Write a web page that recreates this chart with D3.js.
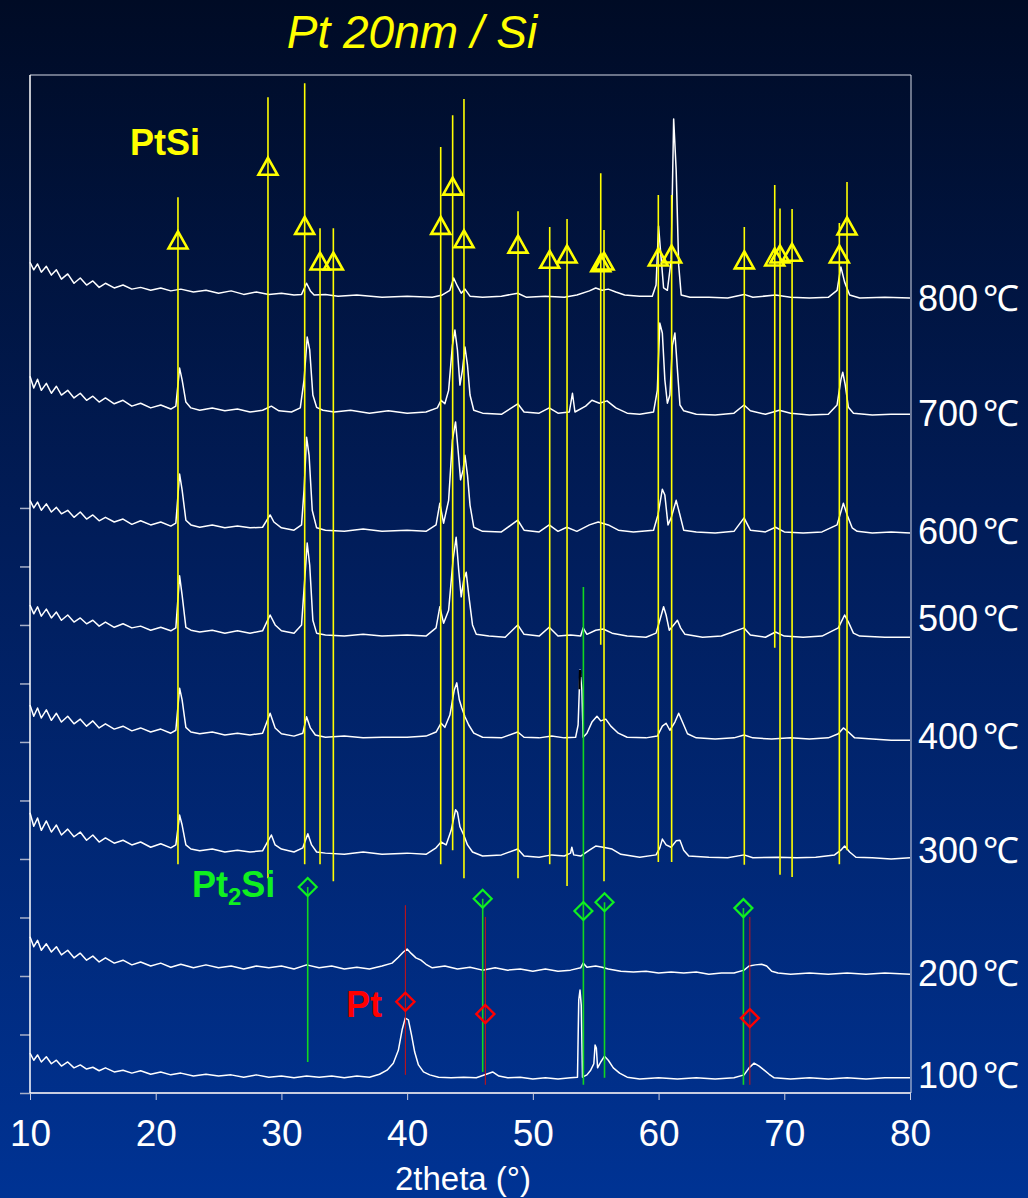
<!DOCTYPE html>
<html>
<head>
<meta charset="utf-8">
<script src="https://cdn.jsdelivr.net/npm/d3@7"></script>
<style>
  html, body { margin: 0; padding: 0; background: #001a50; }
  svg { display: block; font-family: "Liberation Sans", Arial, sans-serif; }
</style>
</head>
<body>
<svg width="1028" height="1198"></svg>
<script>
// ---- data (2theta in degrees, intensity in counts incl. stacking offset) ----
const xTicks = [10, 20, 30, 40, 50, 60, 70, 80];
const yTicks = [0, 1000, 2000, 3000, 4000, 5000, 6000, 7000, 8000, 9000, 10000];

const tempLabels = ['800', '700', '600', '500', '400', '300', '200', '100'];
const tempUnit = '℃';
const tempLabelAt = [13590, 11620, 9600, 8120, 6100, 4150, 2050, 310];

const trace800 = [[10,14200],[10.3,14070],[10.6,14170],[10.9,14030],[11.3,14130],[11.7,13980],[12.1,14070],[12.5,13910],[13,14000],[13.5,13840],[14,13930],[14.5,13810],[15,13880],[15.5,13770],[16,13840],[16.7,13760],[17.4,13810],[18.1,13740],[18.8,13770],[19.6,13720],[20.4,13760],[21.2,13710],[22,13740],[23,13690],[24,13720],[25,13670],[26,13710],[27,13650],[28,13690],[29,13650],[30,13670],[31,13640],[31.6,13650],[32,13840],[32.3,13710],[32.6,13640],[33.5,13650],[34.5,13620],[36,13640],[38,13600],[40,13620],[42,13600],[42.8,13640],[43.4,13720],[43.7,13930],[44,13790],[44.3,13670],[44.6,13740],[45,13620],[46,13600],[47.5,13620],[48.8,13670],[49.5,13600],[51,13620],[52.5,13600],[53.5,13640],[54.5,13710],[55,13760],[55.5,13720],[56,13740],[56.6,13690],[57.3,13640],[58.5,13620],[59.5,13620],[59.8,13810],[60,14820],[60.15,14410],[60.4,13760],[60.7,13720],[61,14240],[61.2,16650],[61.4,15770],[61.6,14150],[61.8,13640],[62.5,13600],[64,13600],[65.5,13590],[66.8,13650],[67.5,13600],[69.3,13640],[70.5,13600],[72,13590],[73.5,13600],[74.2,13720],[74.5,14120],[74.8,13860],[75.2,13640],[76,13590],[78,13600],[80,13590]];

const trace700 = [[10,12250],[10.3,12050],[10.6,12200],[10.9,12010],[11.3,12130],[11.7,11960],[12.1,12080],[12.5,11930],[13,12010],[13.5,11880],[14,11960],[14.5,11840],[15,11910],[15.5,11810],[16,11880],[16.7,11780],[17.4,11840],[18.1,11740],[18.8,11790],[19.6,11710],[20.4,11760],[21.2,11690],[21.6,11740],[21.9,12390],[22.1,12190],[22.4,11810],[22.8,11710],[23.5,11670],[24.5,11710],[25.5,11660],[26.5,11690],[27.5,11640],[28.5,11670],[29.2,11740],[29.8,11660],[30.8,11640],[31.5,11710],[31.8,12190],[32.05,12920],[32.25,12700],[32.5,11930],[32.8,11720],[33.3,11670],[34.2,11640],[35.5,11670],[37,11620],[38.5,11660],[40,11620],[41.5,11640],[42.4,11710],[42.7,11840],[43,11780],[43.3,12010],[43.6,12780],[43.8,13040],[44,12700],[44.2,12100],[44.4,12360],[44.6,12750],[44.8,12440],[45,11930],[45.3,11670],[46,11620],[47.5,11600],[48.8,11780],[49.3,11640],[50.5,11620],[51.3,11710],[52,11620],[52.9,11640],[53.15,11960],[53.35,11640],[54.2,11740],[54.7,11840],[55.3,11790],[55.9,11830],[56.6,11710],[57.5,11620],[58.5,11600],[59.6,11640],[59.9,12010],[60.1,13160],[60.3,12990],[60.5,12190],[60.7,11790],[60.9,11930],[61.1,12780],[61.3,12990],[61.5,12360],[61.7,11760],[62,11660],[63,11600],[64.5,11590],[66,11620],[66.8,11760],[67.3,11660],[68.5,11600],[69.6,11670],[70.5,11620],[72,11590],[73.5,11600],[74.2,11760],[74.5,12190],[74.65,12320],[74.85,12100],[75.1,11720],[75.5,11620],[77,11590],[78.5,11600],[80,11600]];

const trace600 = [[10,10130],[10.3,10000],[10.6,10100],[10.9,9960],[11.3,10070],[11.7,9930],[12.1,10010],[12.5,9900],[13,9960],[13.5,9840],[14,9930],[14.5,9810],[15,9880],[15.5,9780],[16,9840],[16.7,9760],[17.4,9810],[18.1,9720],[18.8,9780],[19.6,9710],[20.4,9760],[21.2,9690],[21.6,9740],[21.9,10580],[22.1,10310],[22.4,9790],[22.8,9710],[23.5,9670],[24.5,9710],[25.5,9660],[26.5,9690],[27.5,9660],[28.5,9670],[29.1,9880],[29.4,9760],[30,9660],[31,9620],[31.6,9710],[31.8,10310],[32,11210],[32.2,10900],[32.45,9960],[32.8,9660],[33.5,9620],[35,9600],[36.5,9640],[38,9600],[40,9620],[41.5,9600],[42.3,9710],[42.6,10080],[42.9,9740],[43.3,10130],[43.6,11160],[43.85,11470],[44.05,10990],[44.25,10480],[44.45,10650],[44.6,10900],[44.8,10560],[45,10050],[45.3,9670],[46,9600],[47.5,9590],[48.8,9790],[49.3,9620],[50.5,9590],[51.3,9710],[52,9600],[52.7,9670],[53.5,9600],[54.5,9710],[55.2,9760],[56,9710],[56.8,9620],[58,9590],[59.6,9620],[59.95,9880],[60.3,10320],[60.5,10220],[60.75,9710],[61,9830],[61.4,10130],[61.7,9880],[62,9620],[63,9590],[64.5,9570],[66,9600],[66.8,9830],[67.3,9620],[68.5,9590],[69.3,9670],[70,9590],[71.5,9570],[73,9590],[74.2,9710],[74.7,10080],[75,9880],[75.4,9660],[75.8,9600],[77,9570],[78.5,9590],[80,9570]];

const trace500 = [[10,8340],[10.3,8190],[10.6,8310],[10.9,8150],[11.3,8270],[11.7,8120],[12.1,8220],[12.5,8080],[13,8170],[13.5,8050],[14,8120],[14.5,8020],[15,8080],[15.5,7980],[16,8050],[16.7,7960],[17.4,8020],[18.1,7950],[18.8,7980],[19.6,7910],[20.4,7960],[21.2,7900],[21.6,7950],[21.9,8840],[22.1,8510],[22.4,7960],[22.8,7910],[23.5,7880],[24.5,7910],[25.5,7860],[26.5,7900],[27.5,7860],[28.5,7900],[29.1,8170],[29.5,8000],[30,7900],[31,7860],[31.6,8000],[31.85,8770],[32.05,9400],[32.25,9020],[32.5,8080],[32.8,7860],[33.5,7830],[35,7810],[36.5,7840],[38,7810],[40,7830],[41.5,7810],[42.3,7950],[42.6,8310],[42.9,8030],[43.3,8250],[43.65,9110],[43.9,9500],[44.1,8940],[44.3,8480],[44.5,8770],[44.7,8900],[44.9,8510],[45.2,8000],[45.5,7840],[46.5,7810],[47.8,7790],[48.8,8000],[49.3,7840],[50.5,7810],[51.3,7960],[52,7810],[53,7830],[53.8,7810],[54,7950],[54.3,7840],[55,7910],[55.6,7930],[56.3,7860],[57.5,7810],[59,7790],[59.8,7860],[60.1,8080],[60.4,8310],[60.6,8170],[60.85,7910],[61.2,8000],[61.5,8080],[61.75,7950],[62.1,7840],[63.5,7790],[65,7810],[66.8,7950],[67.3,7830],[68.5,7790],[69.3,7880],[70,7810],[71.5,7790],[73,7810],[74.3,7950],[74.8,8170],[75.1,8050],[75.5,7860],[76,7810],[78,7790],[80,7790]];

const trace400 = [[10,6630],[10.3,6440],[10.6,6580],[10.9,6410],[11.3,6550],[11.7,6370],[12.1,6490],[12.5,6340],[13,6440],[13.5,6310],[14,6390],[14.5,6270],[15,6360],[15.5,6240],[16,6310],[16.7,6220],[17.4,6270],[18.1,6190],[18.8,6240],[19.6,6170],[20.4,6220],[21.2,6150],[21.6,6200],[21.9,6920],[22.1,6720],[22.4,6250],[22.8,6170],[23.5,6140],[24.5,6170],[25.5,6120],[26.5,6150],[27.5,6120],[28.5,6150],[29.1,6490],[29.5,6240],[30,6140],[31,6100],[31.7,6150],[32,6430],[32.3,6240],[32.7,6120],[33.5,6080],[35,6100],[36.5,6070],[38,6080],[40,6080],[41.5,6100],[42.3,6170],[42.7,6320],[43,6250],[43.4,6460],[43.75,6890],[43.95,7010],[44.15,6720],[44.35,6580],[44.6,6430],[44.9,6290],[45.3,6150],[46,6080],[47.5,6070],[48.8,6170],[49.3,6080],[50.5,6070],[51.5,6100],[52.5,6070],[53.4,6080],[53.6,6290],[53.75,7230],[53.9,6890],[54,6080],[54.3,6150],[54.7,6340],[55.1,6440],[55.4,6360],[55.8,6390],[56.2,6270],[56.8,6150],[57.5,6080],[59,6070],[59.9,6100],[60.3,6270],[60.6,6320],[60.9,6200],[61.3,6340],[61.6,6490],[61.9,6340],[62.3,6140],[63,6070],[64.5,6050],[66,6070],[66.8,6120],[67.5,6070],[69,6050],[70.5,6070],[72,6050],[73.5,6070],[74.3,6140],[74.7,6240],[75.1,6170],[75.6,6070],[77,6050],[78.5,6030],[80,6030]];
const trace400Top = [[53.71,6900],[53.75,7230],[53.8,7110]];

const trace300 = [[10,4790],[10.3,4560],[10.6,4700],[10.9,4490],[11.3,4650],[11.7,4460],[12.1,4580],[12.5,4410],[13,4510],[13.5,4380],[14,4460],[14.5,4320],[15,4410],[15.5,4290],[16,4360],[16.7,4270],[17.4,4320],[18.1,4240],[18.8,4290],[19.6,4200],[20.4,4260],[21.2,4190],[21.6,4240],[21.9,4750],[22.1,4580],[22.4,4240],[22.8,4170],[23.5,4140],[24.5,4170],[25.5,4120],[26.5,4150],[27.5,4120],[28.5,4140],[29.2,4410],[29.5,4240],[30,4170],[31,4120],[31.7,4190],[32.1,4430],[32.4,4240],[32.8,4120],[33.5,4100],[35,4080],[36.5,4120],[38,4080],[40,4100],[41.5,4080],[42.3,4190],[42.7,4290],[43.1,4240],[43.5,4490],[43.85,4840],[44,4800],[44.2,4550],[44.5,4410],[44.8,4240],[45.2,4120],[46,4050],[47.5,4070],[48.8,4170],[49.3,4050],[50.5,4030],[51.5,4070],[52.5,4050],[53,4100],[53.1,4200],[53.25,4070],[53.8,4050],[54.5,4150],[55,4220],[55.6,4200],[56.3,4170],[57,4080],[58.5,4030],[59.8,4070],[60.1,4190],[60.3,4340],[60.6,4240],[61,4200],[61.4,4310],[61.7,4320],[62,4150],[62.4,4050],[64,4030],[65.5,4020],[66.8,4070],[67.5,4020],[69.5,4030],[71,4020],[72.5,4030],[74,4070],[74.5,4150],[74.8,4220],[75.2,4120],[75.7,4030],[77,4020],[78.5,4000],[80,4020]];

const trace200 = [[10,2670],[10.3,2500],[10.6,2610],[10.9,2440],[11.3,2550],[11.7,2410],[12.1,2500],[12.5,2360],[13,2440],[13.5,2310],[14,2390],[14.5,2270],[15,2340],[15.5,2240],[16,2310],[16.7,2220],[17.4,2270],[18.1,2190],[18.8,2240],[19.6,2170],[20.4,2220],[21.2,2150],[22,2200],[23,2140],[24,2190],[25,2140],[26,2170],[27,2120],[28,2170],[29,2140],[30,2170],[31,2120],[32,2190],[33,2140],[34,2170],[35,2120],[36,2150],[37,2120],[38,2170],[38.8,2220],[39.3,2320],[39.7,2410],[40,2460],[40.3,2390],[40.7,2310],[41.1,2270],[41.5,2200],[42,2140],[43,2170],[44,2120],[45,2150],[46,2100],[47,2140],[48,2100],[49,2120],[50,2080],[51,2120],[52,2080],[53,2100],[53.8,2140],[54,2220],[54.3,2150],[55,2170],[55.5,2150],[56,2120],[57,2080],[58,2070],[59,2080],[60,2050],[61,2070],[62,2050],[63,2070],[64,2030],[65,2050],[66,2050],[66.8,2100],[67.2,2170],[67.7,2190],[68.2,2200],[68.6,2170],[69,2080],[69.5,2050],[70.5,2030],[72,2050],[73.5,2030],[75,2050],[76.5,2030],[78,2050],[80,2030]];

const trace100 = [[10,680],[10.3,560],[10.6,650],[10.9,530],[11.3,620],[11.7,500],[12.1,560],[12.5,460],[13,530],[13.5,430],[14,480],[14.5,410],[15,440],[15.5,380],[16,430],[16.7,360],[17.4,390],[18.1,340],[18.8,380],[19.6,320],[20.4,360],[21.2,310],[22,340],[23,290],[24,320],[25,290],[26,310],[27,270],[28,310],[29,270],[30,290],[31,260],[32,290],[33,270],[34,290],[35,260],[36,290],[37,270],[37.8,320],[38.4,390],[38.9,510],[39.3,730],[39.6,1080],[39.85,1280],[40.1,1250],[40.35,990],[40.6,700],[40.9,480],[41.3,360],[41.8,310],[42.5,270],[43.5,260],[44.5,270],[45.5,260],[46.3,320],[46.8,360],[47.3,290],[48,260],[49,270],[50,240],[51,260],[52,240],[53,260],[53.55,270],[53.65,1590],[53.75,1760],[53.85,1500],[53.95,270],[54.3,310],[54.6,390],[54.85,500],[54.95,820],[55.05,770],[55.15,430],[55.4,530],[55.7,630],[56,560],[56.4,430],[56.9,340],[57.5,270],[58.5,240],[60,260],[61.5,240],[63,260],[64.5,240],[66,260],[66.8,310],[67.2,430],[67.6,510],[68,460],[68.4,390],[68.8,320],[69.2,260],[70.5,240],[72,260],[73.5,240],[75,260],[76.5,240],[78,260],[80,260]];

// PtSi reference pattern (stick top, triangle marker, stick bottom)
const ptsiPos    = [21.77, 28.93, 31.85, 33.07, 34.13, 42.67, 43.62, 44.52, 48.82, 51.34, 52.72, 55.40, 55.66, 59.98, 61.04, 66.82, 69.24, 69.66, 70.62, 74.38, 74.99];
const ptsiTop    = [15310, 17020, 17260, 14780, 14780, 16170, 16710, 16990, 15070, 14800, 14940, 15720, 14750, 15350, 15350, 14800, 15520, 15120, 15110, 14870, 15570];
const ptsiMark   = [14580, 15840, 14830, 14220, 14220, 14830, 15500, 14600, 14510, 14250, 14340, 14190, 14220, 14290, 14340, 14240, 14290, 14340, 14370, 14340, 14820];
const ptsiBottom = [3910, 3670, 3910, 3910, 3620, 3910, 4150, 3670, 3670, 3910, 3540, 7660, 3620, 3950, 3950, 3900, 7610, 3730, 3690, 3910, 4150];

// Pt2Si reference pattern
const pt2siPos    = [32.09, 46.01, 54.02, 55.70, 66.75];
const pt2siTop    = [3520, 3320, 8650, 3260, 3160];
const pt2siMark   = [3520, 3320, 3110, 3260, 3160];
const pt2siBottom = [530, 360, 140, 260, 140];

// Pt reference pattern
const ptPos    = [39.86, 46.22, 67.26];
const ptTop    = [3210, 3010, 3010];
const ptMark   = [1560, 1350, 1280];
const ptBottom = [310, 140, 140];

// ---- chart ----
const svg = d3.select('svg');
const width = 1028, height = 1198;
const plot = { left: 30, right: 910, top: 75, bottom: 1093 };

const xScale = d3.scaleLinear().domain([10, 80]).range([plot.left, plot.right]);
const yScale = d3.scaleLinear().domain([0, 17400]).range([plot.bottom, plot.top]);

const defs = svg.append('defs');
const grad = defs.append('linearGradient')
    .attr('id', 'bg').attr('x1', 0).attr('y1', 0).attr('x2', 0).attr('y2', 1);
grad.append('stop').attr('offset', '0%').attr('stop-color', '#000b25');
grad.append('stop').attr('offset', '45%').attr('stop-color', '#011d5a');
grad.append('stop').attr('offset', '100%').attr('stop-color', '#003394');

svg.append('rect').attr('width', width).attr('height', height).attr('fill', 'url(#bg)');

// frame
svg.append('path')
    .attr('d', `M${plot.left},${plot.top}H${plot.right + 1}V${plot.bottom}`)
    .attr('fill', 'none').attr('stroke', '#d6dae6').attr('stroke-width', 1);

// axes
const xAxisG = svg.append('g')
    .attr('transform', `translate(0,${plot.bottom})`)
    .call(d3.axisBottom(xScale).tickValues(xTicks).tickSize(7).tickPadding(20));
xAxisG.select('.domain').remove();
xAxisG.selectAll('.tick line').attr('stroke', '#c8cde0');
xAxisG.selectAll('.tick text')
    .attr('fill', '#ffffff').attr('font-size', 37)
    .attr('font-family', '"Liberation Sans", Arial, sans-serif');

const yAxisG = svg.append('g')
    .attr('transform', `translate(${plot.left},0)`)
    .call(d3.axisLeft(yScale).tickValues(yTicks).tickSize(10).tickFormat(''));
yAxisG.select('.domain').remove();
yAxisG.selectAll('.tick line').attr('stroke', '#a8b0c8').attr('stroke-width', 1.5);

svg.append('line')
    .attr('x1', plot.left).attr('x2', plot.right + 1)
    .attr('y1', plot.bottom).attr('y2', plot.bottom)
    .attr('stroke', '#c8cde0').attr('stroke-width', 2);
svg.append('line')
    .attr('x1', plot.left).attr('x2', plot.left)
    .attr('y1', plot.top).attr('y2', plot.bottom)
    .attr('stroke', '#ffffff').attr('stroke-width', 1.5);

svg.append('text')
    .attr('x', 463).attr('y', 1190)
    .attr('text-anchor', 'middle')
    .attr('fill', '#ffffff').attr('font-size', 33)
    .text('2theta (°)');

// traces
const line = d3.line().x(d => xScale(d[0])).y(d => yScale(d[1]));
const traces = [trace800, trace700, trace600, trace500, trace400, trace300, trace200, trace100];

svg.append('g').selectAll('path').data(traces).enter().append('path')
    .attr('d', line)
    .attr('fill', 'none')
    .attr('stroke', '#ffffff')
    .attr('stroke-width', 1.5)
    .attr('stroke-linejoin', 'round');

svg.append('path')
    .attr('d', line(trace400Top))
    .attr('fill', 'none').attr('stroke', '#000000').attr('stroke-width', 2.2);

const labels = svg.append('g').selectAll('text').data(tempLabels).enter().append('text')
    .attr('x', 918)
    .attr('y', (d, i) => yScale(tempLabelAt[i]))
    .attr('dy', '0.36em')
    .attr('fill', '#ffffff')
    .attr('font-size', 36);
labels.append('tspan').text(d => d);
labels.append('tspan').attr('dx', 5).text(tempUnit);

// reference sticks + markers
const drawRef = (pos, top, mark, bottom, color, lineWidth, shape, markWidth) => {
  const g = svg.append('g');
  g.selectAll('line').data(pos).enter().append('line')
      .attr('x1', d => xScale(d)).attr('x2', d => xScale(d))
      .attr('y1', (d, i) => yScale(top[i]))
      .attr('y2', (d, i) => yScale(bottom[i]))
      .attr('stroke', color.line).attr('stroke-width', lineWidth);
  g.selectAll('path').data(pos).enter().append('path')
      .attr('d', shape)
      .attr('transform', (d, i) => `translate(${xScale(d)},${yScale(mark[i])})`)
      .attr('fill', 'none')
      .attr('stroke', color.mark).attr('stroke-width', markWidth);
};

drawRef(ptsiPos, ptsiTop, ptsiMark, ptsiBottom, { line: '#ffff00', mark: '#ffff00' }, 1.6,
  'M0,-8.5L9.5,8.5L-9.5,8.5Z', 2.6);
drawRef(pt2siPos, pt2siTop, pt2siMark, pt2siBottom, { line: '#10d820', mark: '#10f020' }, 1.6,
  'M0,-9L9,0L0,9L-9,0Z', 2.2);
drawRef(ptPos, ptTop, ptMark, ptBottom, { line: '#d01010', mark: '#ff0000' }, 1,
  'M0,-9L9,0L0,9L-9,0Z', 2.4);

// titles / phase labels
svg.append('text')
    .attr('x', 412).attr('y', 48)
    .attr('text-anchor', 'middle')
    .attr('fill', '#ffff00').attr('font-size', 46).attr('font-style', 'italic')
    .text('Pt 20nm / Si');

svg.append('text')
    .attr('x', 130).attr('y', 155)
    .attr('fill', '#ffff00').attr('font-size', 36).attr('font-weight', 'bold')
    .text('PtSi');

const pt2si = svg.append('text')
    .attr('x', 192).attr('y', 897)
    .attr('fill', '#10f020').attr('font-size', 36).attr('font-weight', 'bold');
pt2si.append('tspan').text('Pt');
pt2si.append('tspan').attr('font-size', 24).attr('dy', 8).text('2');
pt2si.append('tspan').attr('dy', -8).text('Si');

svg.append('text')
    .attr('x', 346).attr('y', 1017)
    .attr('fill', '#ff0000').attr('font-size', 36).attr('font-weight', 'bold')
    .text('Pt');
</script>
</body>
</html>
